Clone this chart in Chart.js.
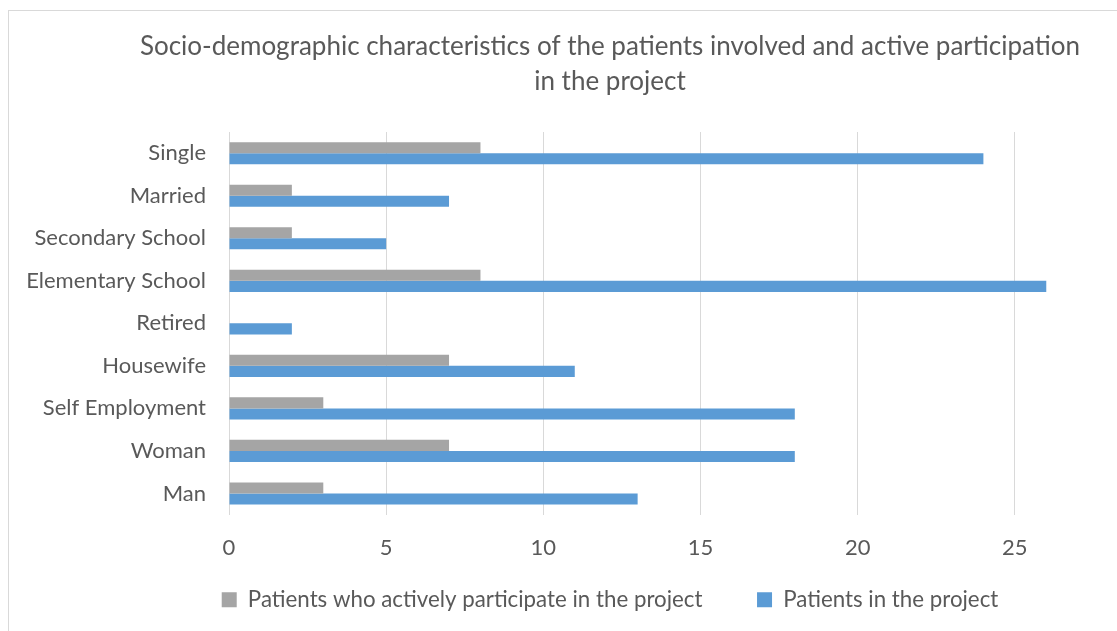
<!DOCTYPE html>
<html>
<head>
<meta charset="utf-8">
<script src="https://cdn.jsdelivr.net/npm/chart.js@4/dist/chart.umd.min.js"></script>
<style>
  html, body { margin: 0; padding: 0; background: #fff; overflow: hidden; }
  #frame {
    position: absolute; left: 8px; top: 10px;
    width: 1202px; height: 640px;
    border: 1px solid #d9d9d9; background: #fff;
  }
  #chart { display: block; }
</style>
</head>
<body>
<div id="frame"><canvas id="chart" width="1202" height="620"></canvas></div>
<script>
const categories = [
  'Single', 'Married', 'Secondary School', 'Elementary School', 'Retired',
  'Housewife', 'Self Employment', 'Woman', 'Man'
];
const activePatients = [8, 2, 2, 8, 0, 7, 3, 7, 3];
const allPatients = [24, 7, 5, 26, 2, 11, 18, 18, 13];
const xTicks = [0, 5, 10, 15, 20, 25, 30];

Chart.defaults.font.family = 'Lato, "Open Sans", sans-serif';
Chart.defaults.color = '#595959';

// default legend items, with extra room between the entries
const spacedLabels = chart => {
  const items = Chart.defaults.plugins.legend.labels.generateLabels(chart);
  items.forEach((it, i) => {
    if (i < items.length - 1) it.text = it.text + '\u2002\u2002\u2002\u2002';
  });
  return items;
};

new Chart(document.getElementById('chart'), {
  type: 'bar',
  data: {
    labels: categories,
    datasets: [{
      label: 'Patients who actively participate in the project',
      data: activePatients,
      backgroundColor: '#a5a5a5',
      categoryPercentage: 0.52,
      barPercentage: 1.0
    }, {
      label: 'Patients in the project',
      data: allPatients,
      backgroundColor: '#5b9bd5',
      categoryPercentage: 0.52,
      barPercentage: 1.0
    }]
  },
  options: {
    indexAxis: 'y',
    responsive: false,
    animation: false,
    layout: { padding: { left: 0, right: 0, top: 0, bottom: 10 } },
    plugins: {
      title: {
        display: true,
        text: ['Socio-demographic characteristics of the patients involved and active participation', 'in the project'],
        font: { size: 26, weight: 'normal', lineHeight: 1.346 },
        color: '#595959',
        padding: { top: 18, bottom: 33 }
      },
      legend: {
        position: 'bottom',
        labels: {
          boxWidth: 15,
          boxHeight: 15,
          padding: 10,
          font: { size: 22.3 },
          color: '#595959',
          generateLabels: spacedLabels
        }
      },
      tooltip: { enabled: false }
    },
    scales: {
      x: {
        min: 0,
        max: 30,
        afterBuildTicks: s => { s.ticks = xTicks.map(v => ({ value: v })); },
        // fixed axis height, and room to the right of the plot
        afterFit: s => { s.height = 64; s.paddingRight = 39; },
        grid: { color: '#d9d9d9', lineWidth: 1, drawTicks: false },
        border: { display: false },
        ticks: { padding: 20, font: { size: 22 } }
      },
      y: {
        afterFit: s => { s.width = 220; },
        grid: { display: false, drawTicks: false },
        border: { display: false },
        ticks: { padding: 23, font: { size: 22 } }
      }
    }
  }
});
</script>
</body>
</html>
